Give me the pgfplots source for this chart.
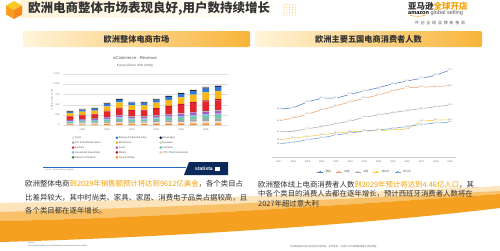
\documentclass[border=0pt]{standalone}
\usepackage{pgfplots}
\pgfplotsset{compat=1.18}
\usepackage{pgfplotstable}
\usepackage{fontspec}
\setmainfont{Liberation Sans}
\newfontfamily\cjk{Noto Sans CJK SC}
\newfontfamily\cjkls{Noto Sans CJK SC}[LetterSpace=45]
\usetikzlibrary{shadings}

\definecolor{txt}{HTML}{333333}
\definecolor{hl}{HTML}{F5A000}
\definecolor{hdrL}{HTML}{FFF4DA}
\definecolor{hdrR}{HTML}{F8B43A}
\definecolor{swoA}{HTML}{FCE4BC}
\definecolor{swoB}{HTML}{F9C26A}
\definecolor{swoC}{HTML}{F5A020}
\definecolor{cTools}{HTML}{E0E0E0}
\definecolor{cDIY}{HTML}{A0A4AA}
\definecolor{cFash}{HTML}{E3262B}
\definecolor{cHH}{HTML}{8CB8E8}
\definecolor{cTob}{HTML}{2F7D32}
\definecolor{cBeauty}{HTML}{2F7BD6}
\definecolor{cElec}{HTML}{F7B718}
\definecolor{cFood}{HTML}{A95CC8}
\definecolor{cMedia}{HTML}{B5123A}
\definecolor{cTH}{HTML}{F28C28}
\definecolor{cBev}{HTML}{1B1E2B}
\definecolor{cEye}{HTML}{B9DDB0}
\definecolor{cFurn}{HTML}{6FC7A6}
\definecolor{cOTC}{HTML}{EFC9A0}
\definecolor{cDE}{HTML}{4F7FC8}
\definecolor{cUK}{HTML}{F0A06A}
\definecolor{cFR}{HTML}{ABABAB}
\definecolor{cES}{HTML}{F7CC3A}
\definecolor{cIT}{HTML}{6FA3D8}
\definecolor{navy}{HTML}{0B2A5B}

\pgfplotstableread{
yr TH OTC Tools DIY Furn HH Food Eye Tob Fash Media Elec Beauty Bev Tot
2017 13.3 10.0 10.0 19.9 29.9 13.3 23.2 3.3 3.3 83.0 10.0 69.7 33.2 10.0 331.91
2018 15.1 11.3 11.3 22.6 33.9 15.1 26.4 3.8 3.8 94.3 11.3 79.2 37.7 11.3 376.61
2019 16.2 12.2 12.2 24.4 36.5 16.2 28.4 4.1 4.1 101.5 12.2 85.3 40.6 12.2 406.29
2020 21.1 15.8 15.8 31.7 47.5 21.1 37.0 5.3 5.3 132.0 15.8 110.9 52.8 15.8 527.98
2021 25.5 19.1 19.1 38.2 57.3 25.5 44.6 6.4 6.4 159.3 19.1 133.8 63.7 19.1 636.79
2022 22.0 16.5 16.5 33.1 49.6 22.0 38.6 5.5 5.5 137.8 16.5 115.7 55.1 16.5 550.87
2023 22.2 16.7 16.7 33.4 50.0 22.2 38.9 5.6 5.6 139.0 16.7 116.8 55.6 16.7 555.83
2024 25.2 18.9 18.9 37.9 56.8 25.2 44.2 6.3 6.3 157.8 18.9 132.5 63.1 18.9 630.69
2025 28.3 21.2 21.2 42.5 63.7 28.3 49.6 7.1 7.1 177.0 21.2 148.7 70.8 21.2 707.96
2026 31.2 23.4 23.4 46.8 70.2 31.2 54.6 7.8 7.8 195.0 23.4 163.8 78.0 23.4 780.36
2027 34.2 25.6 25.6 51.2 76.9 34.2 59.8 8.5 8.5 213.5 25.6 179.3 85.4 25.6 854.46
2028 36.6 27.5 27.5 55.0 82.4 36.6 64.1 9.2 9.2 229.0 27.5 192.4 91.6 27.5 915.63
2029 38.4 28.8 28.8 57.7 86.5 38.4 67.3 9.6 9.6 240.3 28.8 201.8 96.1 28.8 961.22
}\rev

\pgfplotstableread{
yr DE UK FR ES IT
2017 48.8 41.8 35.2 30.4 28.0
2018 49.6 43.4 35.4 31.4 28.8
2019 53.2 45.8 37.0 32.4 30.4
2020 55.4 48.4 38.4 33.4 31.6
2021 55.4 50.8 40.0 34.4 33.2
2022 57.8 53.2 41.6 35.2 34.4
2023 59.8 55.4 44.0 35.6 35.6
2024 61.8 57.4 45.4 35.8 36.4
2025 64.0 59.8 46.8 36.4 37.2
2026 65.8 62.0 48.0 36.8 38.4
2027 67.4 62.0 49.2 41.6 39.6
2028 69.2 62.4 50.2 42.2 40.4
2029 72.4 63.0 51.4 42.4 41.0
}\users

\pgfplotsset{dotleg/.style={legend image code/.code={\fill[#1] (1.2pt,0pt) circle (1.1pt);}}}
\newcommand{\legtxt}[1]{\makebox[40pt][l]{#1}}

\begin{document}
\begin{tikzpicture}[x=1pt,y=1pt]
\useasboundingbox (0,0) rectangle (500,250);
\fill[white] (0,0) rectangle (500,250);

% title strip
\shade[left color=hdrL, right color=white] (20,233) rectangle (292,250);
\foreach \i in {0,...,4} {\foreach \j in {0,...,4} {\fill[swoB] (284+2.8*\i,235+2.6*\j) circle (0.55);}}
% cube icon
\fill[hdrR!70!yellow] (14,249) -- (22,244.5) -- (14,240) -- (6,244.5) -- cycle;
\fill[swoC] (6,244.5) -- (14,240) -- (14,231) -- (6,235.5) -- cycle;
\fill[swoC!85!red] (14,240) -- (22,244.5) -- (22,235.5) -- (14,231) -- cycle;
\node[anchor=west, inner sep=0, font=\cjk\bfseries\fontsize{12.5}{14}\selectfont, text=txt] at (28,241.5) {欧洲电商整体市场表现良好,用户数持续增长};

% amazon logo
\node[anchor=west, inner sep=0, font=\cjk\bfseries\fontsize{8.5}{9}\selectfont] at (408,244) {\textcolor{txt}{亚马逊}\textcolor{hl}{全球开店}};
\node[anchor=west, inner sep=0, font=\fontsize{5.6}{6}\selectfont] at (408,237) {\textbf{amazon} \textcolor{txt!80}{global selling}};
\draw[hl, line width=0.5pt] (410,234.6) .. controls (416,233.2) and (422,233.4) .. (426,235.2);
\node[inner sep=0, font=\cjkls\fontsize{4}{5}\selectfont, text=txt!80] at (440,227) {共创全球品牌新格局};

% panel headers
\shade[left color=hdrL, right color=hdrR, rounded corners=1.5pt] (23,203) rectangle (250,219);
\shade[left color=hdrL, right color=hdrR, rounded corners=1.5pt] (255,203) rectangle (482,219);
\node[inner sep=0, font=\cjk\bfseries\fontsize{8.2}{9}\selectfont, text=txt] at (136.5,211) {欧洲整体电商市场};
\node[inner sep=0, font=\cjk\bfseries\fontsize{8.2}{9}\selectfont, text=txt] at (368.5,211) {欧洲主要五国电商消费者人数};

% statista chart texts
\node[inner sep=0, font=\fontsize{4.2}{5}\selectfont, text=black!65] at (135,192) {eCommerce - Revenue};
\node[inner sep=0, font=\fontsize{3}{4}\selectfont, text=black!60] at (135,184) {Europe (billion USD (US\$))};
\node[inner sep=0, rotate=90, font=\fontsize{2.3}{3}\selectfont, text=black!50] at (52,150) {in billion USD (US\$)};

\begin{axis}[at={(63pt,125pt)}, anchor=south west, scale only axis,
  width=165pt, height=51pt,
  ybar stacked, bar width=6.6pt,
  xmin=2016.43, xmax=2029.8, ymin=0, ymax=1250,
  ytick={0,250,...,1250}, xtick={2018,2020,...,2028},
  axis line style={draw=none}, tick style={draw=none},
  ymajorgrids, grid style={black!12, line width=0.2pt},
  ticklabel style={font=\fontsize{2.4}{3}\selectfont, text=black!55},
  /pgf/number format/assume math mode=true,
  x tick label style={/pgf/number format/1000 sep={}},
  legend style={at={(0.052,-0.2)}, anchor=north west, legend columns=3, draw=none, fill=none,
    inner sep=0pt, font=\fontsize{2.6}{3}\selectfont, text=black!65,
    nodes={inner xsep=0.6pt, inner ysep=1pt, text height=2.1pt, text depth=0.6pt},
    row sep=0.2pt},
  legend cell align=left,
  clip=false]
\addplot[fill=cTH, draw=none, forget plot] table[x=yr,y=TH]{\rev};
\addplot[fill=cOTC, draw=none, forget plot] table[x=yr,y=OTC]{\rev};
\addplot[fill=cTools, draw=none, forget plot] table[x=yr,y=Tools]{\rev};
\addplot[fill=cDIY, draw=none, forget plot] table[x=yr,y=DIY]{\rev};
\addplot[fill=cFurn, draw=none, forget plot] table[x=yr,y=Furn]{\rev};
\addplot[fill=cHH, draw=none, forget plot] table[x=yr,y=HH]{\rev};
\addplot[fill=cFood, draw=none, forget plot] table[x=yr,y=Food]{\rev};
\addplot[fill=cEye, draw=none, forget plot] table[x=yr,y=Eye]{\rev};
\addplot[fill=cTob, draw=none, forget plot] table[x=yr,y=Tob]{\rev};
\addplot[fill=cFash, draw=none, forget plot] table[x=yr,y=Fash]{\rev};
\addplot[fill=cMedia, draw=none, forget plot] table[x=yr,y=Media]{\rev};
\addplot[fill=cElec, draw=none, forget plot] table[x=yr,y=Elec]{\rev};
\addplot[fill=cBeauty, draw=none, forget plot] table[x=yr,y=Beauty]{\rev};
\addplot[fill=cBev, draw=none, forget plot, point meta=explicit,
  nodes near coords={\pgfmathprintnumber[fixed,precision=2,fixed zerofill,1000 sep={}]{\pgfplotspointmeta}},
  every node near coord/.append style={font=\fontsize{2.2}{2.6}\selectfont, text=black!70, inner sep=0.8pt}]
  table[x=yr,y=Bev,meta=Tot]{\rev};
\addlegendimage{dotleg=cTools}\addlegendentry{\legtxt{Tools}}
\addlegendimage{dotleg=cBeauty}\addlegendentry{\legtxt{Beauty \& Personal Care}}
\addlegendimage{dotleg=cBev}\addlegendentry{\legtxt{Beverages}}
\addlegendimage{dotleg=cDIY}\addlegendentry{\legtxt{DIY \& Hardware Store}}
\addlegendimage{dotleg=cElec}\addlegendentry{\legtxt{Electronics}}
\addlegendimage{dotleg=cEye}\addlegendentry{\legtxt{Eyewear}}
\addlegendimage{dotleg=cFash}\addlegendentry{\legtxt{Fashion}}
\addlegendimage{dotleg=cFood}\addlegendentry{\legtxt{Food}}
\addlegendimage{dotleg=cFurn}\addlegendentry{\legtxt{Furniture}}
\addlegendimage{dotleg=cHH}\addlegendentry{\legtxt{Household Essentials}}
\addlegendimage{dotleg=cMedia}\addlegendentry{\legtxt{Media}}
\addlegendimage{dotleg=cOTC}\addlegendentry{\legtxt{OTC Pharmaceuticals}}
\addlegendimage{dotleg=cTob}\addlegendentry{\legtxt{Tobacco Products}}
\addlegendimage{dotleg=cTH}\addlegendentry{\legtxt{Toys \& Hobby}}
\end{axis}
% statista banner
\draw[cBeauty!80!navy, line width=0.7pt] (43,83) -- (186,83);
\fill[navy] (184,75) -- (228,75) -- (228,88) -- (189,88) -- cycle;
\node[inner sep=0, font=\bfseries\fontsize{5}{6}\selectfont, text=white] at (204,81.5) {statista};
\fill[white] (215,79) rectangle (219.5,83.5);
\node[anchor=west, inner sep=0, font=\fontsize{2}{2.5}\selectfont, text=black!50] at (45,80) {Source: Statista Market Insights};

% line chart
\begin{axis}[at={(272pt,93pt)}, anchor=south west, scale only axis,
  width=184pt, height=97pt,
  xmin=2016.51, xmax=2029.42, ymin=20, ymax=78.4,
  axis x line*=bottom, axis y line=none,
  x axis line style={black!20, line width=0.4pt},
  xtick={2017,...,2029}, tick style={draw=none},
  xticklabel style={font=\fontsize{2.4}{3}\selectfont, text=black!55},
  /pgf/number format/assume math mode=true,
  x tick label style={/pgf/number format/1000 sep={}},
  every axis plot/.append style={line width=0.55pt, mark=*, mark size=0.55pt},
  nodes near coords={\pgfmathprintnumber[fixed,precision=1,fixed zerofill]{\pgfplotspointmeta}},
  every node near coord/.append style={font=\fontsize{2}{2.4}\selectfont, text=black!55, anchor=center, fill=white, inner sep=0.2pt},
  legend style={at={(0.505,-0.09)}, anchor=north, legend columns=5, draw=none, fill=none,
    font=\cjk\fontsize{2.6}{3}\selectfont, text=black!60,
    /tikz/every even column/.append style={column sep=3pt}},
  legend image code/.code={\draw[mark repeat=2,mark phase=2,#1] plot coordinates {(0pt,0pt) (3pt,0pt) (6pt,0pt)};},
  clip=false]
\addplot[cDE] table[x=yr,y=DE]{\users};\addlegendentry{德国}
\addplot[cUK] table[x=yr,y=UK]{\users};\addlegendentry{英国}
\addplot[cFR] table[x=yr,y=FR]{\users};\addlegendentry{法国}
\addplot[cES] table[x=yr,y=ES]{\users};\addlegendentry{西班牙}
\addplot[cIT] table[x=yr,y=IT]{\users};\addlegendentry{意大利}
\end{axis}

% bottom swoosh
\fill[swoA] (0pt,47pt) .. controls (150pt,50pt) and (330pt,56pt) .. (500pt,64pt) -- (500pt,56pt) .. controls (330pt,44pt) and (150pt,32pt) .. (0pt,29pt) -- cycle;
\fill[swoB] (0pt,38pt) .. controls (150pt,42pt) and (330pt,50pt) .. (500pt,59pt) -- (500pt,56pt) .. controls (330pt,44pt) and (150pt,32pt) .. (0pt,29pt) -- cycle;
\fill[swoC] (0pt,29pt) .. controls (150pt,32pt) and (330pt,44pt) .. (500pt,56pt) -- (500pt,42pt) .. controls (350pt,24pt) and (150pt,12pt) .. (0pt,8pt) -- cycle;

% paragraphs
\node[anchor=west, inner sep=0, font=\cjk\fontsize{7.4}{8}\selectfont, text=txt] at (25,66.5) {欧洲整体电商\textcolor{hl}{到2029年销售额预计将达到9612亿美金}，各个类目占};
\node[anchor=west, inner sep=0, font=\cjk\fontsize{7.4}{8}\selectfont, text=txt] at (25,52.5) {比差异较大，其中时尚类、家具、家居、消费电子品类占据较高，且};
\node[anchor=west, inner sep=0, font=\cjk\fontsize{7.4}{8}\selectfont, text=txt] at (25,39) {各个类目都在逐年增长。};
\node[anchor=west, inner sep=0, font=\cjk\fontsize{7.4}{8}\selectfont, text=txt] at (258,65.5) {欧洲整体线上电商消费者人数\textcolor{hl}{到2029年预计将达到4.46亿人口}，其};
\node[anchor=west, inner sep=0, font=\cjk\fontsize{7.4}{8}\selectfont, text=txt] at (258,56) {中各个类目的消费人去都在逐年增长，预计西班牙消费者人数将在};
\node[anchor=west, inner sep=0, font=\cjk\fontsize{7.4}{8}\selectfont, text=txt] at (258,46.5) {2027年超过意大利};

% footers
\node[anchor=west, inner sep=0, font=\fontsize{2}{2.4}\selectfont, text=black!60] at (28,7.5) {Source:};
\node[anchor=west, inner sep=0, font=\fontsize{2}{2.4}\selectfont, text=black!60] at (28,4.5) {https://www.statista.com/outlook/emo/ecommerce/europe\#revenue};
\node[anchor=west, inner sep=0, font=\cjk\fontsize{2.4}{3}\selectfont, text=black!55] at (290,3.5) {本资料版权归亚马逊全球开店所有，仅供参考，未经许可不得转载或用于其他用途};
\end{tikzpicture}
\end{document}
